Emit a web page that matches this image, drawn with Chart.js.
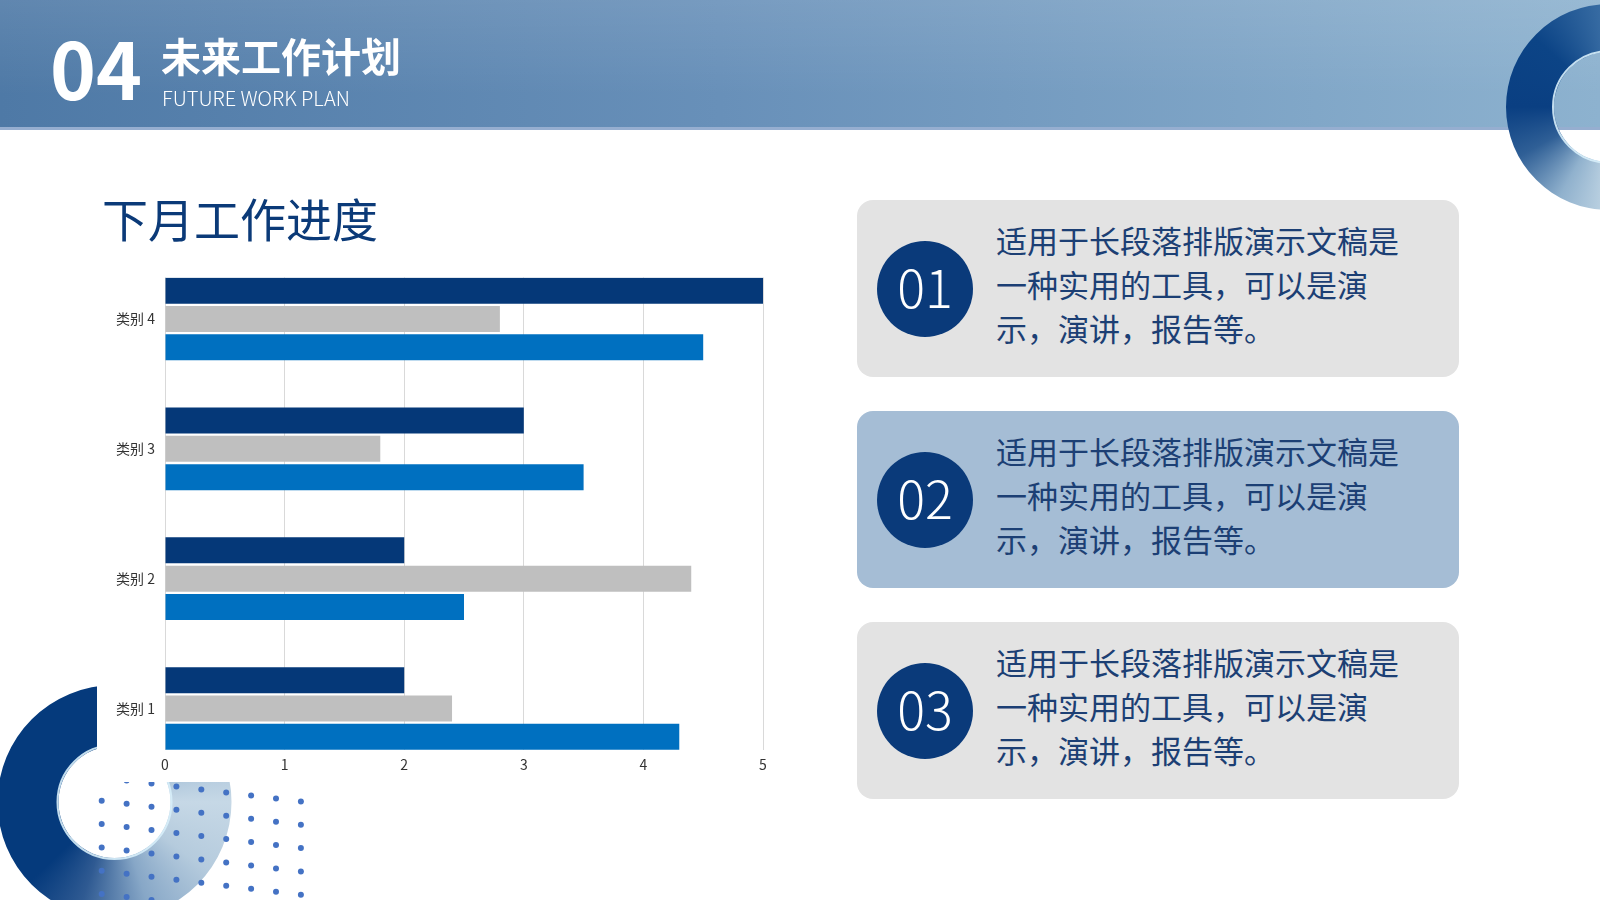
<!DOCTYPE html>
<html lang="zh-CN">
<head>
<meta charset="utf-8">
<title>未来工作计划</title>
<script src="https://cdn.jsdelivr.net/npm/chart.js@4.4.1/dist/chart.umd.min.js"></script>
<style>
  html, body { margin: 0; padding: 0; }
  body {
    width: 1600px; height: 900px; position: relative; overflow: hidden; background: #fff;
    font-family: "Noto Sans CJK SC", "Noto Sans", sans-serif;
  }
  .header {
    position: absolute; left: 0; top: 0; width: 1600px; height: 130px; box-sizing: border-box;
    background:
      linear-gradient(180deg, rgba(255,255,255,0.10), rgba(255,255,255,0) 75%),
      linear-gradient(90deg, #4e79a6 0%, #6890b9 45%, #8db2cf 100%);
    border-bottom: 3px solid #96aed0;
    z-index: 1;
  }
  #deco { position: absolute; left: 0; top: 0; z-index: 2; pointer-events: none; }
  .abs { position: absolute; z-index: 3; white-space: nowrap; }
  .num04 { left: 50px; top: 27px; font-size: 78px; line-height: 78px; font-weight: 700; color: #fff; }
  .title { left: 161px; top: 35px; font-size: 40px; line-height: 40px; font-weight: 700; color: #fff; }
  .subtitle { left: 162px; top: 87px; font-size: 20px; line-height: 21px; font-weight: 300; color: #fff; }
  .chartTitle { left: 102px; top: 194px; font-size: 46px; line-height: 46px; font-weight: 400; color: #0b3a78; }
  #chartBox { position: absolute; left: 97px; top: 258px; width: 690px; height: 524px; background: #fff; z-index: 3; }
  .card {
    position: absolute; left: 857px; width: 602px; height: 177px; border-radius: 16px; z-index: 3;
    background: #e3e3e3;
  }
  .card.alt { background: #a5bdd5; }
  .circle {
    position: absolute; left: 20px; top: 41px; width: 96px; height: 96px; border-radius: 50%;
    background: #0a3a7a; color: #fff; font-size: 52px; font-weight: 300;
    display: flex; align-items: center; justify-content: center; line-height: 52px;
  }
  .circle span { position: relative; top: -3px; }
  .card p {
    position: absolute; left: 139px; top: 18px; margin: 0; font-size: 31px; line-height: 44px;
    color: #1c3f74; white-space: nowrap;
  }
</style>
</head>
<body>
<div class="header"></div>
<canvas id="deco" width="1600" height="900"></canvas>

<div class="abs num04">04</div>
<div class="abs title">未来工作计划</div>
<div class="abs subtitle">FUTURE WORK PLAN</div>
<div class="abs chartTitle">下月工作进度</div>

<div id="chartBox"><canvas id="barChart"></canvas></div>

<div class="card" style="top:200px"><div class="circle"><span>01</span></div>
  <p>适用于长段落排版演示文稿是<br>一种实用的工具，可以是演<br>示，演讲，报告等。</p></div>
<div class="card alt" style="top:411px"><div class="circle"><span>02</span></div>
  <p>适用于长段落排版演示文稿是<br>一种实用的工具，可以是演<br>示，演讲，报告等。</p></div>
<div class="card" style="top:622px"><div class="circle"><span>03</span></div>
  <p>适用于长段落排版演示文稿是<br>一种实用的工具，可以是演<br>示，演讲，报告等。</p></div>

<script>
const categories = ['类别 1', '类别 2', '类别 3', '类别 4'];
const series1 = [2, 2, 3, 5];
const series2 = [2.4, 4.4, 1.8, 2.8];
const series3 = [4.3, 2.5, 3.5, 4.5];
const xTicks = [0, 1, 2, 3, 4, 5];

// decorations: two rings and the dot grid
const deco = document.getElementById('deco').getContext('2d');
function ring(cx, cy, r0, r1, stops, edge) {
  const g = deco.createConicGradient(0, cx, cy);
  stops.forEach(s => g.addColorStop(s[0], s[1]));
  deco.beginPath();
  deco.arc(cx, cy, r1, 0, Math.PI * 2);
  deco.arc(cx, cy, r0, 0, Math.PI * 2, true);
  deco.fillStyle = g;
  deco.fill();
  deco.beginPath();
  deco.arc(cx, cy, r0 + 1, 0, Math.PI * 2);
  deco.strokeStyle = edge;
  deco.lineWidth = 2;
  deco.stroke();
}
ring(1609, 107, 55, 103, [
  [0, '#7fa6c8'], [0.25, '#c0d5e4'], [0.33, '#90b1cd'], [0.42, '#2f5f96'],
  [0.5, '#0a3f82'], [0.62, '#0c4486'], [0.75, '#3c70a6'], [1, '#7fa6c8']
], 'rgba(215,238,250,0.9)');
ring(114.5, 802, 56, 117, [
  [0, '#c6d8e6'], [0.1, '#b5cbdd'], [0.2, '#87a7c7'], [0.3, '#2f5a92'],
  [0.38, '#053a7c'], [0.78, '#053a7c'], [0.9, '#9cb9d3'], [1, '#c6d8e6']
], 'rgba(215,238,250,0.9)');
deco.fillStyle = '#4472c4';
for (let c = 0; c < 9; c++) {
  for (let r = 0; r < 7; r++) {
    deco.beginPath();
    deco.arc(101.7 + 24.9 * c, 777.5 + 3 * c + 23.3 * r, 3, 0, Math.PI * 2);
    deco.fill();
  }
}

// bar chart: categories sit at 1..4 on a linear y axis so the plot can hug the bar groups
const toPoints = arr => arr.map((v, i) => ({ x: v, y: i + 1 }));
const ctxBar = document.getElementById('barChart').getContext('2d');
new Chart(ctxBar, {
  type: 'bar',
  data: {
    datasets: [
      { label: '系列 3', data: toPoints(series1), backgroundColor: '#053878' },
      { label: '系列 2', data: toPoints(series2), backgroundColor: '#bfbfbf' },
      { label: '系列 1', data: toPoints(series3), backgroundColor: '#0070c0' }
    ]
  },
  options: {
    indexAxis: 'y',
    responsive: true,
    maintainAspectRatio: false,
    animation: false,
    categoryPercentage: 0.654,
    barPercentage: 0.92,
    layout: { padding: { top: 19.5, right: 24, left: 0, bottom: 0 } },
    plugins: { legend: { display: false }, tooltip: { enabled: false } },
    scales: {
      x: {
        type: 'linear',
        min: xTicks[0],
        max: xTicks[xTicks.length - 1],
        afterBuildTicks: s => { s.ticks = xTicks.map(v => ({ value: v })); },
        afterFit: s => { s.height = 32; },
        grid: { color: '#d9d9d9', lineWidth: 1, drawTicks: false },
        border: { display: false },
        ticks: { padding: 6, color: '#333333', font: { size: 14, family: '"Noto Sans CJK SC", sans-serif' } }
      },
      y: {
        type: 'linear',
        offset: false,
        min: 0.68,
        max: 4.32,
        afterBuildTicks: s => { s.ticks = categories.map((c, i) => ({ value: i + 1 })); },
        afterFit: s => { s.width = 68; },
        grid: { display: false, offset: false },
        border: { display: false },
        ticks: {
          padding: 2,
          color: '#333333',
          font: { size: 14, family: '"Noto Sans CJK SC", sans-serif' },
          callback: v => categories[Math.round(v) - 1]
        }
      }
    }
  }
});
</script>
</body>
</html>
